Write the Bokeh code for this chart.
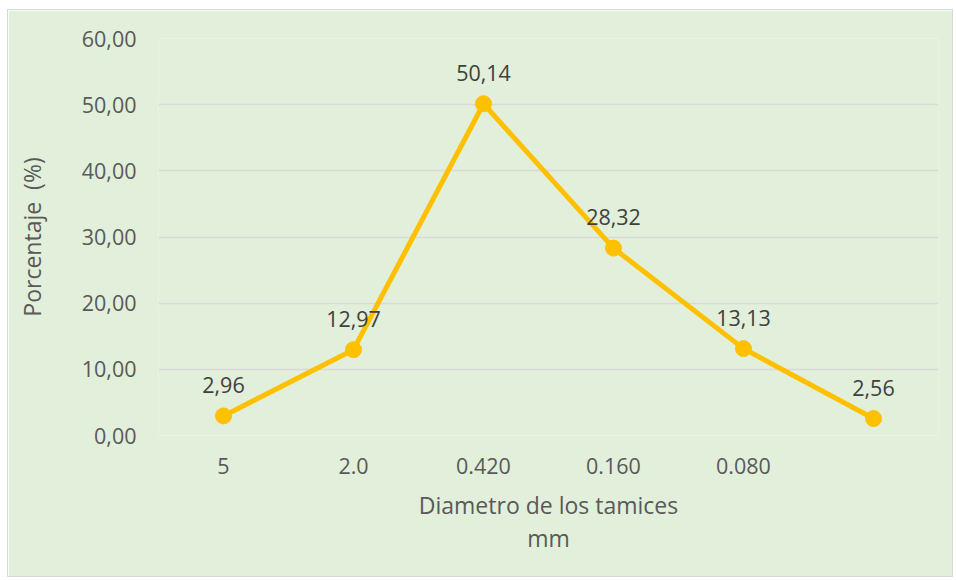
from bokeh.plotting import figure
from bokeh.models import Range1d, FixedTicker, ColumnDataSource, LabelSet, CustomJSTickFormatter
from bokeh.core.properties import value
from bokeh.embed import file_html
from bokeh.resources import INLINE

categories = ["5", "2.0", "0.420", "0.160", "0.080", ""]
values = [2.96, 12.97, 50.14, 28.32, 13.13, 2.56]
y_ticks = [0, 10, 20, 30, 40, 50, 60]

xs = list(range(len(categories)))
labels = [f"{v:.2f}".replace(".", ",") for v in values]
src = ColumnDataSource(dict(x=xs, y=values, lab=labels))

FONT = "Open Sans"
BG = "#E2EFDA"
FS = "21.5px"
TFS = "23px"

p = figure(width=946, height=568, output_backend="svg", toolbar_location=None,
           x_range=Range1d(-0.5, len(categories) - 0.5), y_range=Range1d(0, 60),
           min_border_left=150, min_border_right=16, min_border_top=28, min_border_bottom=143)
p.background_fill_color = BG
p.border_fill_color = BG
p.outline_line_color = None
p.styles = {"border": "1px solid #D9D9D9", "margin-left": "7px", "margin-top": "9px"}

p.line("x", "y", source=src, line_color="#FFC000", line_width=5)
p.scatter("x", "y", source=src, size=16, fill_color="#FFC000", line_color="#FFC000")

p.add_layout(LabelSet(x="x", y="y", text="lab", source=src, y_offset=31,
                      text_align="center", text_baseline="middle",
                      text_font=value(FONT), text_font_size=FS, text_color="#404040"))

# y axis
p.yaxis.ticker = FixedTicker(ticks=y_ticks)
p.yaxis.formatter = CustomJSTickFormatter(code="return tick.toFixed(2).replace('.', ',');")
p.yaxis.axis_line_color = None
p.yaxis.major_tick_line_color = None
p.yaxis.minor_tick_line_color = None
p.yaxis.major_label_standoff = 16
p.yaxis.major_label_text_font = FONT
p.yaxis.major_label_text_font_size = FS
p.yaxis.major_label_text_color = "#595959"
p.yaxis.axis_label = "Porcentaje \u00a0(%)"
p.yaxis.axis_label_standoff = 31
p.yaxis.axis_label_text_font = FONT
p.yaxis.axis_label_text_font_size = TFS
p.yaxis.axis_label_text_font_style = "normal"
p.yaxis.axis_label_text_color = "#595959"

# x axis
p.xaxis.ticker = FixedTicker(ticks=xs)
p.xaxis.major_label_overrides = {i: c for i, c in zip(xs, categories)}
p.xaxis.axis_line_color = None
p.xaxis.major_tick_line_color = None
p.xaxis.minor_tick_line_color = None
p.xaxis.major_label_standoff = 16
p.xaxis.major_label_text_font = FONT
p.xaxis.major_label_text_font_size = FS
p.xaxis.major_label_text_color = "#595959"
p.xaxis.axis_label = "Diametro de los tamices\nmm"
p.xaxis.axis_label_standoff = 12
p.xaxis.axis_label_text_font = FONT
p.xaxis.axis_label_text_font_size = TFS
p.xaxis.axis_label_text_font_style = "normal"
p.xaxis.axis_label_text_color = "#595959"
p.xaxis.axis_label_text_line_height = 1.05

p.xgrid.grid_line_color = None
p.ygrid.grid_line_color = "#D9D9D9"
p.ygrid.grid_line_width = 1.5

open("out.html", "w").write(file_html(p, INLINE))
